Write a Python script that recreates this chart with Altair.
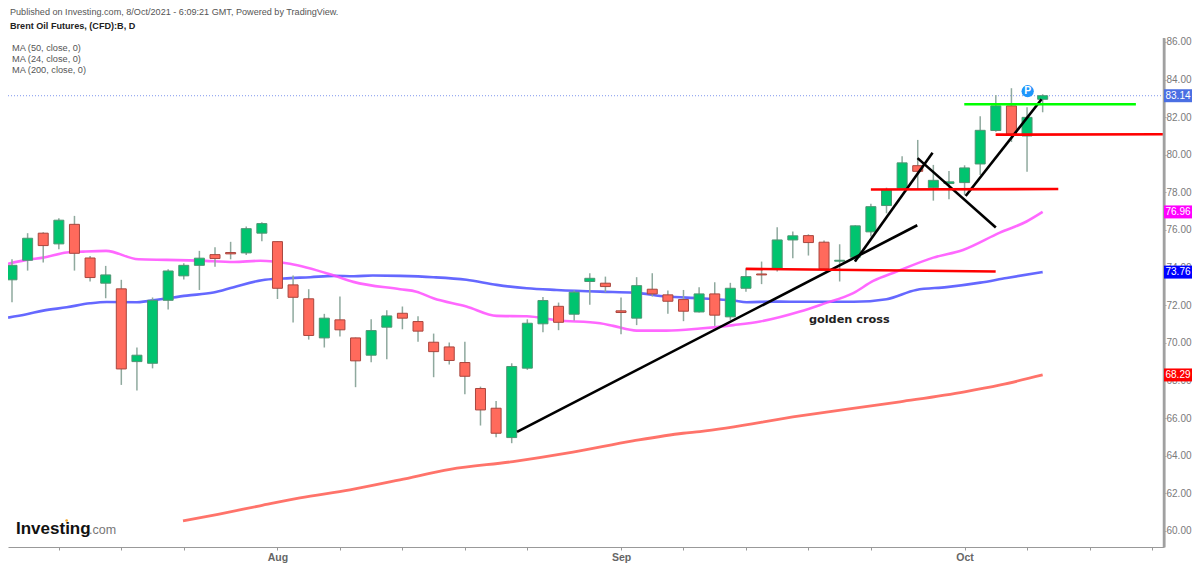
import altair as alt
import pandas as pd

# candle index, open, high, low, close
opens = [73.35,74.39,75.83,75.26,76.30,74.51,73.17,72.87,69.00,68.91,72.26,73.56,74.12,74.69,74.80,74.78,75.83,75.38,73.08,72.34,
         70.26,71.22,70.26,69.34,70.83,71.57,71.13,70.03,69.78,68.95,67.57,66.52,64.96,68.65,71.01,71.94,71.52,73.26,73.17,71.70,
         71.31,72.85,72.55,72.30,71.64,72.60,71.38,72.90,73.66,73.93,75.47,75.70,75.35,74.34,74.55,75.90,77.30,78.22,79.42,78.25,
         78.47,78.52,79.51,81.29,82.60,81.00,82.95]
highs = [74.44,75.83,75.88,76.62,76.75,74.62,74.09,73.35,69.75,72.41,73.91,74.23,74.89,75.08,75.37,76.18,76.41,75.40,73.58,72.85,
         71.54,72.46,70.28,71.25,71.73,71.93,71.41,70.49,70.01,70.05,67.67,66.91,68.91,71.25,72.44,72.14,72.78,73.70,73.52,72.41,
         73.49,73.70,72.78,72.81,72.96,73.22,73.19,73.97,74.32,76.14,75.92,75.77,75.44,75.24,76.25,77.39,78.25,79.92,80.79,79.46,
         79.14,79.44,82.05,83.18,83.54,82.53,83.22]
lows = [72.16,73.84,74.27,74.98,73.84,73.26,72.37,67.76,67.46,68.64,71.77,73.36,72.81,74.05,74.44,74.67,75.40,72.33,71.08,70.17,
        69.75,70.33,67.64,68.97,69.13,70.72,70.05,68.17,68.84,67.27,65.60,64.98,64.66,68.56,70.56,70.67,71.18,72.03,72.69,70.46,
        70.94,72.46,71.55,71.15,71.61,70.90,71.22,72.72,73.12,73.79,74.50,74.64,73.88,73.26,74.32,75.65,76.89,78.22,78.13,77.56,
        77.63,77.86,78.93,81.23,80.68,79.10,82.26]
closes = [74.12,75.56,75.17,76.52,74.76,73.47,73.61,68.61,69.34,72.26,73.82,74.12,74.50,74.48,74.73,76.07,76.34,72.90,72.42,70.39,
          71.31,70.69,69.04,70.65,71.43,71.31,70.62,69.53,69.06,68.22,66.43,65.19,68.74,71.04,72.25,71.09,72.69,73.43,72.99,71.61,
          73.04,72.60,72.21,71.68,72.60,71.47,72.90,73.52,73.61,75.47,75.69,75.33,73.93,74.39,76.22,77.24,78.13,79.57,79.12,78.64,
          78.56,79.30,81.30,82.60,81.09,81.99,83.14]

ma50_x = [-0.25,0.94,2,3.5,5,6.06,8,9.5,11.2,12.9,14.2,16,17.4,19.1,20.6,21.9,23.1,24.85,26.98,29.1,31.04,32.96,34.88,37.66,39.8,41.9,44.06,46.2,47.05,48.75,50.9,53.9,56,57.9,59.85,62,63.7,66]
ma50_y = [71.34,71.52,71.71,71.89,72.10,72.17,72.16,72.32,72.51,72.67,72.96,73.33,73.42,73.49,73.56,73.54,73.58,73.56,73.49,73.35,73.08,72.90,72.81,72.72,72.67,72.46,72.37,72.25,72.16,72.19,72.18,72.18,72.32,72.81,72.96,73.20,73.45,73.76]
ma24_x = [-0.25,0.94,2,3.5,4.57,6.02,8.09,9.9,12.04,14.2,15.9,17.8,20.6,21.86,24.85,25.9,26.98,29.1,31.04,32.96,34.88,37.66,38.5,40,41.9,44.06,46.2,47.9,50.46,51.95,53.87,55.15,56.65,59,60.9,63.26,64.97,66]
ma24_y = [74.20,74.41,74.53,74.80,74.85,74.89,74.44,74.41,74.37,74.30,74.36,74.20,73.58,73.24,72.85,72.72,72.37,71.93,71.43,71.41,71.20,71.04,70.90,70.65,70.65,70.76,70.94,71.13,71.66,72.07,72.64,73.29,73.79,74.53,74.94,75.86,76.45,76.96]
ma200_x = [10.95,13.19,15.88,18.44,21.64,24.84,28.05,32.08,35.92,39.76,42.97,44.05,50.46,56.86,61,63.3,66]
ma200_y = [60.53,60.88,61.33,61.75,62.18,62.71,63.27,63.68,64.18,64.78,65.19,65.28,66.11,66.86,67.39,67.76,68.29]

seg_x1 = [32.34,53.98,57.99,61.07,46.99,55.0,62.99,60.98]
seg_x2 = [57.97,58.95,63.0,65.93,62.99,67.0,73.7,71.97]
seg_y1 = [65.26,74.32,79.82,77.81,73.93,78.15,81.07,82.69]
seg_y2 = [76.25,80.11,76.13,82.95,73.79,78.18,81.09,82.69]
seg_col = ["#000000"]*4 + ["#ff0000"]*3 + ["#00ff00"]

tick_idx = [3,7,11,17,21,25,29,33,39,43,47,51,55,61,65,69,73]
month_idx = [17,39,61]
month_lab = ["Aug","Sep","Oct"]
y_ticks = list(range(60,88,2))

tag_val = [83.14,76.96,73.76,68.29]
tag_col = ["#4a6fe3","#ff00ff","#0000ff","#ff0000"]

header = ["Published on Investing.com, 8/Oct/2021 - 6:09:21 GMT, Powered by TradingView."]
ma_labels = ["MA (50, close, 0)","MA (24, close, 0)","MA (200, close, 0)"]

W, H = 1156, 509
x_end = 73.77
y_lo, y_hi = 59.14, 86.21
xs = alt.Scale(domain=[-0.256,x_end], nice=False, zero=False, padding=0)
ys = alt.Scale(domain=[y_lo,y_hi], nice=False, zero=False, padding=0)

label_expr = "".join(f"datum.value=={i}?'{m}':" for i,m in zip(month_idx,month_lab)) + "''"
XA = alt.Axis(values=tick_idx, labelExpr=label_expr, grid=False, domain=True, domainColor="#999999", title=None,
          tickColor="#999999", tickSize=3, labelColor="#666666", labelFont="Liberation Sans", labelFontWeight="bold", labelFontSize=10.5,
          labelPadding=2, labelOverlap=False)
YA = alt.Axis(orient="right", values=y_ticks, format=".2f", grid=False, domain=True, domainColor="#aaaaaa", domainWidth=2, title=None,
          tickColor="#aaaaaa", tickSize=2, labelColor="#7a7a7a", labelFont="Liberation Sans", labelFontSize=10, labelPadding=0, labelOverlap=False, labelFlush=False)

def X(f): return alt.X(f, scale=xs, axis=XA)
def Y(f): return alt.Y(f, scale=ys, axis=YA)

c = pd.DataFrame({"i":range(len(opens)),"o":opens,"h":highs,"l":lows,"c":closes})
c["top"] = c[["o","c"]].max(axis=1); c["bot"] = c[["o","c"]].min(axis=1)
c["fill"] = ["#00c46f" if b>=a else "#ff6a5c" for a,b in zip(opens,closes)]
c["edge"] = ["#4f9473" if b>=a else "#a8463e" for a,b in zip(opens,closes)]

spine = alt.Chart(pd.DataFrame({"i":[x_end],"a":[y_lo],"b":[y_hi]})).mark_rule(color="#a0a0a0", strokeWidth=2.5).encode(x=X("i:Q"), y=Y("a:Q"), y2="b:Q")
last = alt.Chart(pd.DataFrame({"v":[tag_val[0]]})).mark_rule(color="#7f96ee", strokeDash=[1,2], strokeWidth=1).encode(y=Y("v:Q"))

def ma(xv, yv, col, w):
    return alt.Chart(pd.DataFrame({"i":xv,"v":yv})).mark_line(color=col, strokeWidth=w, opacity=0.85, interpolate="monotone").encode(x=X("i:Q"), y=Y("v:Q"))

mas = ma(ma50_x, ma50_y, "#4a4dff", 2.6) + ma(ma24_x, ma24_y, "#ff4dff", 2.6) + ma(ma200_x, ma200_y, "#ff5a50", 2.8)

wick = alt.Chart(c).mark_rule(color="#8fa99e", strokeWidth=1.5).encode(x=X("i:Q"), y=Y("l:Q"), y2="h:Q")
body = alt.Chart(c).mark_bar(size=10, strokeWidth=1).encode(x=X("i:Q"), y=Y("bot:Q"), y2="top:Q",
        fill=alt.Fill("fill:N", scale=None), stroke=alt.Stroke("edge:N", scale=None))

seg = pd.DataFrame({"x1":seg_x1,"x2":seg_x2,"y1":seg_y1,"y2":seg_y2,"col":seg_col})
segs = alt.Chart(seg).mark_rule(strokeWidth=2.6).encode(x=X("x1:Q"), x2="x2:Q", y=Y("y1:Q"), y2="y2:Q",
        color=alt.Color("col:N", scale=None))

pin = alt.Chart(pd.DataFrame({"i":[65.04],"v":[83.38]}))
pin_dot = pin.mark_point(filled=True, size=150, color="#1e96fc", opacity=1).encode(x=X("i:Q"), y=Y("v:Q"))
pin_txt = pin.mark_text(text="P", color="white", fontWeight="bold", font="Liberation Sans", fontSize=10.5).encode(x=X("i:Q"), y=Y("v:Q"))

gc = alt.Chart(pd.DataFrame({"i":[51.03],"v":[71.22],"t":["golden cross"]})).mark_text(align="left", font="DejaVu Sans", fontWeight="bold", fontSize=11.3, color="#222222").encode(
    x=X("i:Q"), y=Y("v:Q"), text="t:N")

tags = pd.DataFrame({"v":tag_val,"col":tag_col})
tags["lo"] = tags.v-0.345; tags["hi"] = tags.v+0.345; tags["t"] = [f"{v:.2f}" for v in tag_val]
tag_r = alt.Chart(tags).mark_rect().encode(x=alt.value(W), x2=alt.value(W+28), y=Y("lo:Q"), y2="hi:Q", color=alt.Color("col:N", scale=None))
tag_t = alt.Chart(tags).mark_text(color="white", font="Liberation Sans", fontSize=10).encode(x=alt.value(W+14), y=Y("v:Q"), text="t:N")

def label(t, x, y, **kw):
    base = dict(align="left", font="Liberation Sans", fontSize=9.1, color="#555555")
    base.update(kw)
    return alt.Chart(pd.DataFrame({"t":[t]})).mark_text(**base).encode(x=alt.value(x), y=alt.value(y), text="t:N")

texts = label(header[0], 2, -26.5) + label("Brent Oil Futures, (CFD):B, D", 2, -12, fontWeight="bold", color="#222222")
for k, t in enumerate(ma_labels):
    texts += label(t, 4, 10 + 11*k, fontSize=9.2)
logo = label("Investing", 8, 496, fontSize=17, fontWeight="bold", color="#111111", baseline="alphabetic") + \
       label(".com", 81, 496, fontSize=12.5, color="#777777", baseline="alphabetic")
dot = alt.Chart(pd.DataFrame({"i":[3.5],"v":[60.55]})).mark_point(filled=True, size=7, color="#f5a623", opacity=1).encode(x=X("i:Q"), y=Y("v:Q"))

chart = alt.layer(last, mas, wick, body, segs, pin_dot, pin_txt, gc, texts, logo, dot, spine, tag_r, tag_t).properties(
    width=W, height=H, padding={"top":30,"left":0,"right":28,"bottom":18},
    autosize=alt.AutoSizeParams(type="none"), background="white"
).configure_view(stroke=None)
chart.save("out.html", embed_options={"renderer":"svg","actions":False})
